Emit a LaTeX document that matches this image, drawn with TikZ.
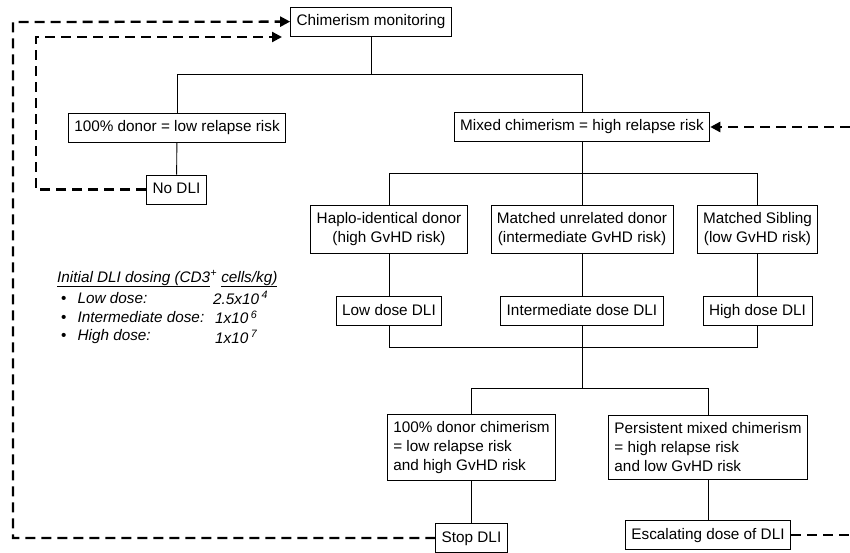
\documentclass[tikz,border=0pt]{standalone}
\usepackage{fontspec}
\setmainfont{Liberation Sans}
\usetikzlibrary{arrows.meta}

\begin{document}
\begin{tikzpicture}[x=1pt, y=-1pt,
    every node/.style={font=\fontsize{15.3}{19}\selectfont},
    box/.style={draw, line width=0.9pt, inner xsep=6pt, inner ysep=7pt},
    oneline/.style={box, text height=11.5pt, text depth=3.5pt},
    legend/.style={inner sep=0pt, anchor=west, font=\fontsize{15.3}{19}\selectfont\itshape},
    tree/.style={line width=0.9pt},
    back/.style={line width=2.3pt, dash pattern=on 10pt off 6pt},
    backarrow/.style={back, -{Triangle[length=10pt,width=10pt]}}]
    \useasboundingbox (0,0) rectangle (850,553);

    \node[oneline] (chim) at (371,21.5) {Chimerism monitoring};
    \node[oneline] (donor) at (177,127.5) {100\% donor = low relapse risk};
    \node[oneline] (mixed) at (582,127) {Mixed chimerism = high relapse risk};
    \node[oneline] (nodli) at (176.5,189.5) {No DLI};

    \node[box, align=center] (haplo) at (389,229.5) {Haplo-identical donor\\(high GvHD risk)};
    \node[box, align=center] (unrel) at (582,229.5) {Matched unrelated donor\\(intermediate GvHD risk)};
    \node[box, align=center] (sib) at (757.5,229.5) {Matched Sibling\\(low GvHD risk)};

    \node[oneline] (lowdli) at (389,311) {Low dose DLI};
    \node[oneline] (middli) at (582,311) {Intermediate dose DLI};
    \node[oneline] (highdli) at (757.5,311) {High dose DLI};

    \node[box, align=left] (fullchim) at (471.5,447.5) {100\% donor chimerism\\= low relapse risk\\and high GvHD risk};
    \node[box, align=left] (mixchim) at (708,447.5) {Persistent mixed chimerism\\= high relapse risk\\and low GvHD risk};

    \node[oneline] (stopdli) at (471.5,538) {Stop DLI};
    \node[oneline] (escdli) at (708,535) {Escalating dose of DLI};

    % dosing legend
    \node[legend] (dosetitle) at (57,279) {\underline{Initial DLI dosing (CD3}\textsuperscript{+} \underline{cells/kg)}};
    \node[legend] (lowlab) at (61,298) {{\upshape\textbullet}\hspace{11pt}Low dose:};
    \node[legend] (lowval) at (213,298) {2.5x10\,\textsuperscript{4}};
    \node[legend] (midlab) at (61,317.5) {{\upshape\textbullet}\hspace{11pt}Intermediate dose:};
    \node[legend] (midval) at (215,317.5) {1x10\,\textsuperscript{6}};
    \node[legend] (highlab) at (61,337) {{\upshape\textbullet}\hspace{11pt}High dose:};
    \node[legend] (highval) at (215,337) {1x10\,\textsuperscript{7}};

    % tree
    \draw[tree] (chim) -- (chim |- 0,74);
    \draw[tree] (donor) |- (mixed |- 0,74) -- (mixed);
    \draw[tree] (donor) -- (nodli);
    \draw[tree] (mixed) -- (mixed |- 0,173);
    \draw[tree] (haplo) |- (sib |- 0,173) -- (sib);
    \draw[tree] (unrel) -- (unrel |- 0,173);
    \draw[tree] (haplo) -- (lowdli);
    \draw[tree] (unrel) -- (middli);
    \draw[tree] (sib) -- (highdli);
    \draw[tree] (lowdli) |- (highdli |- 0,347) -- (highdli);
    \draw[tree] (middli) -- (middli |- 0,388);
    \draw[tree] (fullchim) |- (mixchim |- 0,388) -- (mixchim);
    \draw[tree] (fullchim) -- (stopdli);
    \draw[tree] (mixchim) -- (escdli);

    % feedback loops
    \coordinate (outer) at (13,22);
    \coordinate (inner) at (36,37);
    \coordinate (innertip) at (282,37);
    \coordinate (rightup) at (850,127);
    \coordinate (rightdown) at (850,535);
    \draw[backarrow] (stopdli) -| (outer) -- (chim);
    \draw[backarrow] (nodli) -| (inner) -- (innertip);
    \draw[backarrow] (rightup) -- (mixed);
    \draw[back] (escdli) -- (rightdown);
\end{tikzpicture}
\end{document}
